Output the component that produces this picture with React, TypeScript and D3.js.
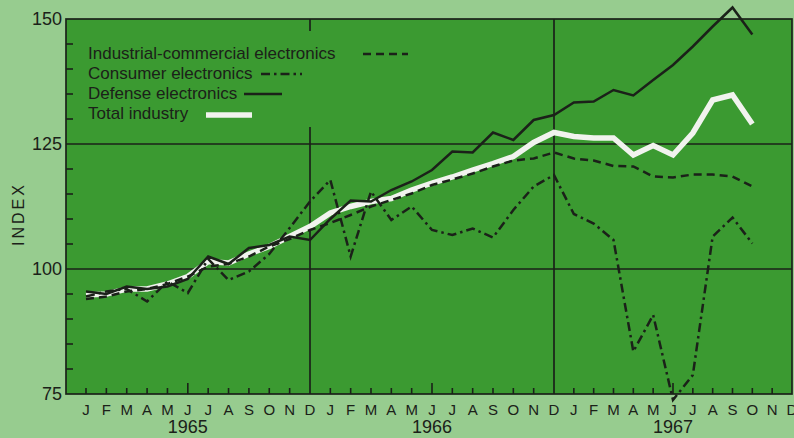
import React from "react";
import * as d3 from "d3";

const monthLabels = ["J","F","M","A","M","J","J","A","S","O","N","D"];
const years = ["1965", "1966", "1967"];
const yTicks = [75, 100, 125, 150];

const defense = [95.5, 95, 96.5, 96, 96.5, 98, 102.5, 101, 104.2, 104.8, 106.5, 105.8, 110, 113.7, 113.5, 115.8, 117.5, 119.8, 123.5, 123.3, 127.3, 125.8, 129.8, 130.8, 133.3, 133.5, 135.8, 134.7, 137.8, 140.8, 144.5, 148.5, 152.3, 146.9];
const industrial = [94, 94.5, 95.5, 96, 97, 98.5, 100.5, 101, 102.5, 104.5, 106, 107.8, 109.2, 110.8, 112.5, 113.8, 115.1, 116.8, 117.9, 119.1, 120.5, 121.7, 122.1, 123.3, 122.1, 121.7, 120.6, 120.5, 118.5, 118.3, 118.9, 118.9, 118.5, 116.5];
const consumer = [94.5, 95.5, 96, 93.5, 97.5, 95.2, 102, 97.8, 99.5, 103, 108.2, 113.5, 117.8, 102.5, 115.5, 109.8, 112.5, 107.8, 106.8, 108.1, 106.3, 111.8, 116.5, 118.8, 111, 109.1, 105.8, 83.5, 90.8, 73.8, 78.8, 106.5, 110.3, 105.1];
const total = [94.8, 95, 96, 96, 97, 98.5, 101.5, 101.2, 103, 104.5, 106.5, 108.5, 111.2, 112.5, 113.5, 114.1, 115.8, 117.2, 118.4, 119.8, 121.1, 122.5, 125.3, 127.3, 126.5, 126.2, 126.2, 122.8, 124.7, 122.8, 127.2, 133.8, 134.8, 129];

const legendLabels = ["Industrial-commercial electronics", "Consumer electronics", "Defense electronics", "Total industry"];

const W = 794, H = 438;
const BG = "#97cc8f";
const PLOT = "#3b9a31";
const INK = "#1b2119";
const WHITE = "#f1f3ee";
const FONT = "'Liberation Sans', Arial, sans-serif";

export default function App() {
  const x = d3.scaleLinear().domain([0, 11, 23, 35]).range([86, 310, 554, 792]);
  const y = d3.scaleLinear().domain([75, 150]).range([394, 19]);
  const left = 66, right = 792, top = y(150), bottom = y(75);
  const line = d3.line<number>().x((_, i) => x(i)).y((d) => y(d)).curve(d3.curveLinear);
  const allMonths = d3.range(36);
  const minor = d3.range(75, 150, 5).filter((v) => v % 25 !== 0);

  return (
    <svg width={W} height={H} style={{ position: "absolute", left: 0, top: 0, display: "block" }}>
      <rect x={0} y={0} width={W} height={H} fill={BG} />
      <rect x={left} y={top} width={right - left} height={bottom - top} fill={PLOT} />
      {[100, 125].map((v) => (
        <line key={v} x1={left} x2={right} y1={y(v)} y2={y(v)} stroke={INK} strokeWidth={1.7} />
      ))}
      {[11, 23].map((i) => (
        <line key={i} x1={x(i)} x2={x(i)} y1={top} y2={bottom} stroke={INK} strokeWidth={1.7} />
      ))}
      <rect x={84} y={31} width={330} height={96} fill={PLOT} />
      <rect x={left} y={top} width={right - left} height={bottom - top} fill="none" stroke={INK} strokeWidth={1.7} />
      {minor.map((v) => (
        <line key={v} x1={left} x2={left + 7} y1={y(v)} y2={y(v)} stroke={INK} strokeWidth={1.6} />
      ))}
      {allMonths.filter((i) => i % 12 !== 11).map((i) => (
        <line key={i} x1={x(i)} x2={x(i)} y1={bottom} y2={bottom - (i % 12 === 5 ? 11 : 6)} stroke={INK} strokeWidth={1.6} />
      ))}
      {yTicks.map((v) => (
        <text key={v} x={62} y={y(v)} dy="0.36em" textAnchor="end" fontFamily={FONT} fontSize={18} fill={INK}>{v}</text>
      ))}
      <text transform="translate(24,214) rotate(-90)" textAnchor="middle" fontFamily={FONT} fontSize={16} letterSpacing={3} fill={INK}>INDEX</text>
      {allMonths.map((i) => (
        <text key={i} x={x(i)} y={415} textAnchor="middle" fontFamily={FONT} fontSize={15} fill={INK}>{monthLabels[i % 12]}</text>
      ))}
      {years.map((yr, k) => (
        <text key={yr} x={x(k * 12 + 5)} y={433} textAnchor="middle" fontFamily={FONT} fontSize={18} fill={INK}>{yr}</text>
      ))}
      <path d={line(total) || ""} fill="none" stroke={WHITE} strokeWidth={5.5} strokeLinejoin="miter" />
      <path d={line(industrial) || ""} fill="none" stroke={INK} strokeWidth={2.5} strokeDasharray="8,5" />
      <path d={line(consumer) || ""} fill="none" stroke={INK} strokeWidth={2.5} strokeDasharray="9,4,2.5,4" />
      <path d={line(defense) || ""} fill="none" stroke={INK} strokeWidth={2.5} />
      {legendLabels.map((t, k) => (
        <text key={t} x={88} y={59 + k * 20.1} fontFamily={FONT} fontSize={17} fill={INK}>{t}</text>
      ))}
      <line x1={363} x2={408} y1={54} y2={54} stroke={INK} strokeWidth={2.5} strokeDasharray="8,5" />
      <line x1={261} x2={302} y1={74} y2={74} stroke={INK} strokeWidth={2.5} strokeDasharray="9,4,2.5,4" />
      <line x1={244} x2={282} y1={94} y2={94} stroke={INK} strokeWidth={2.5} />
      <line x1={206} x2={252} y1={115} y2={115} stroke={WHITE} strokeWidth={5.5} />
    </svg>
  );
}
